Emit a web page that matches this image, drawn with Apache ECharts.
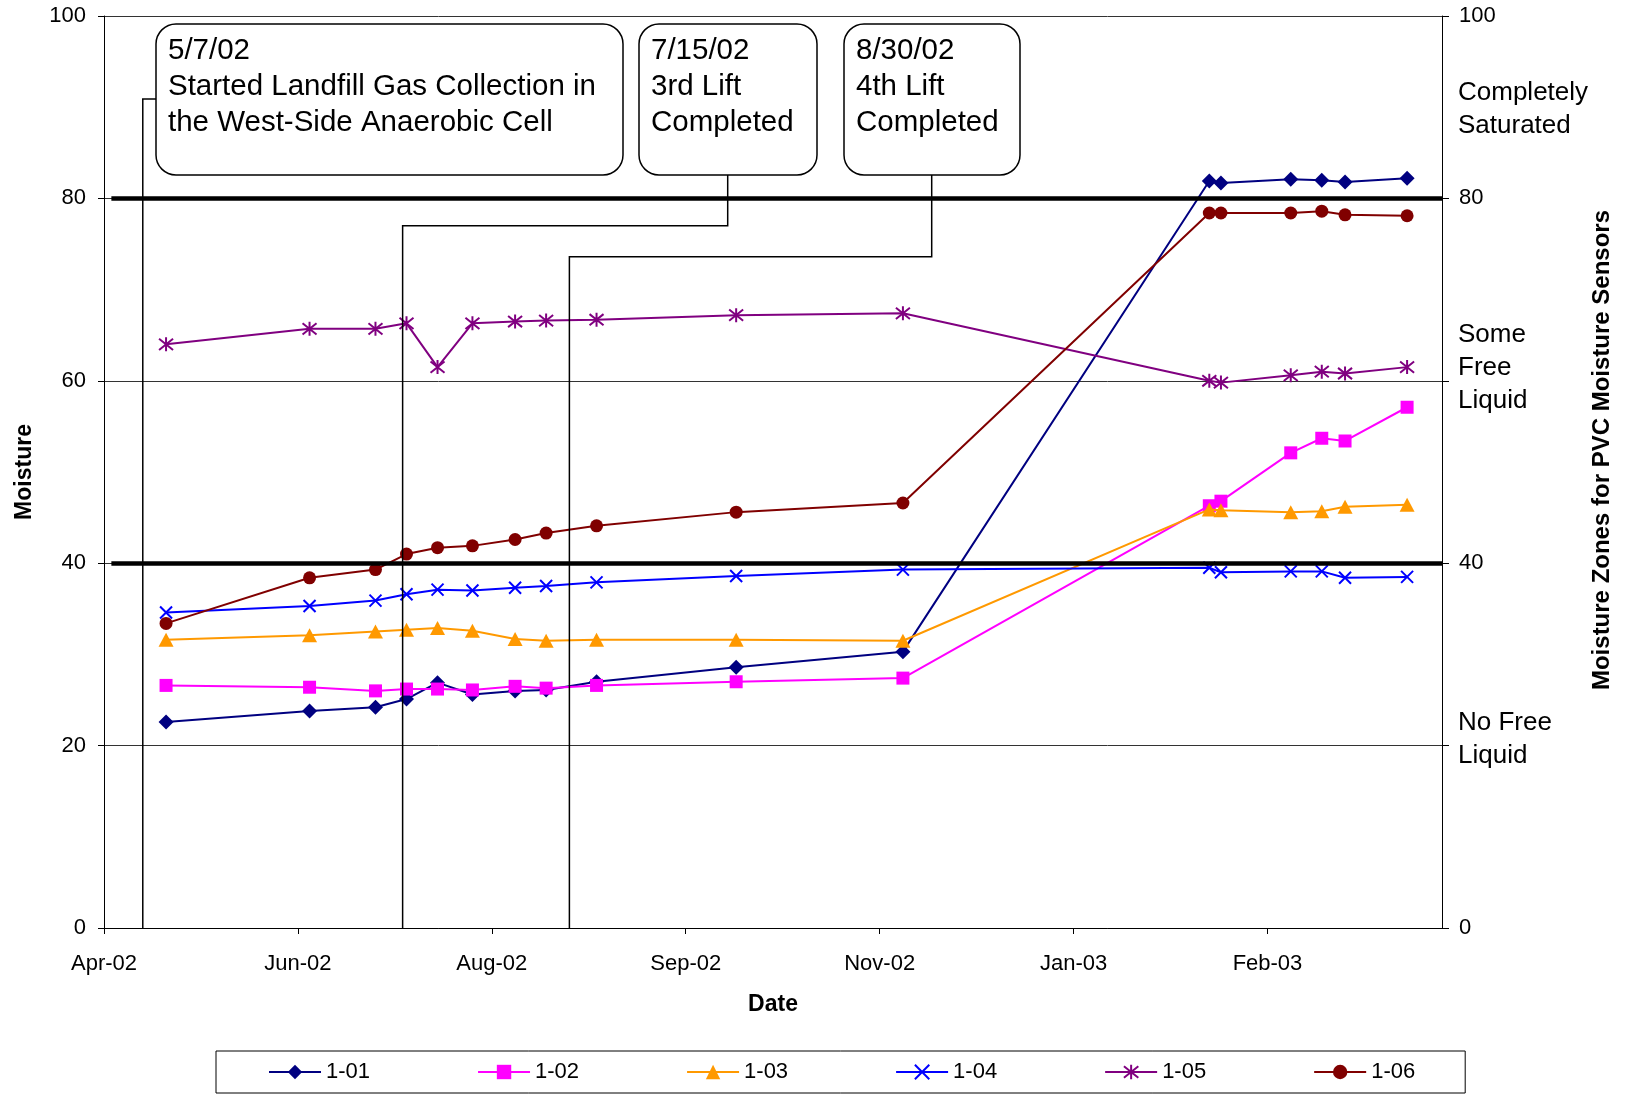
<!DOCTYPE html>
<html><head><meta charset="utf-8">
<script src="https://cdn.jsdelivr.net/npm/echarts@6/dist/echarts.min.js"></script>
<style>html,body{margin:0;padding:0;background:#fff}#c{width:1627px;height:1095px}</style>
</head><body><div id="c"></div>
<script>
// ---- data ----
const ORIGIN = '2002-04-28';           // left end of the date axis
const tickStepDays = 50;
const axisMaxDays = 345;
const tickLabels = ['Apr-02', 'Jun-02', 'Aug-02', 'Sep-02', 'Nov-02', 'Jan-03', 'Feb-03'];
const dates = ['2002-05-14', '2002-06-20', '2002-07-07', '2002-07-15', '2002-07-23', '2002-08-01',
  '2002-08-12', '2002-08-20', '2002-09-02', '2002-10-08', '2002-11-20', '2003-02-07',
  '2003-02-10', '2003-02-28', '2003-03-08', '2003-03-14', '2003-03-30'];
const seriesNames = ['1-01', '1-02', '1-03', '1-04', '1-05', '1-06'];
const s101 = [22.6, 23.8, 24.2, 25.1, 26.9, 25.6, 26.0, 26.1, 27.0, 28.6, 30.3, 81.9, 81.7, 82.1, 82.0, 81.8, 82.2];
const s102 = [26.6, 26.4, 26.0, 26.2, 26.2, 26.1, 26.5, 26.3, 26.6, 27.0, 27.4, 46.3, 46.8, 52.1, 53.7, 53.4, 57.1];
const s103 = [31.6, 32.1, 32.5, 32.7, 32.9, 32.6, 31.7, 31.5, 31.6, 31.6, 31.5, 45.9, 45.8, 45.6, 45.7, 46.2, 46.4];
const s104 = [34.6, 35.3, 35.9, 36.6, 37.1, 37.0, 37.3, 37.5, 37.9, 38.6, 39.3, 39.5, 39.0, 39.1, 39.1, 38.4, 38.5];
const s105 = [64.0, 65.7, 65.7, 66.3, 61.5, 66.3, 66.5, 66.6, 66.7, 67.2, 67.4, 60.0, 59.8, 60.6, 61.0, 60.8, 61.5];
const s106 = [33.4, 38.4, 39.3, 41.0, 41.7, 41.9, 42.6, 43.3, 44.1, 45.6, 46.6, 78.4, 78.4, 78.4, 78.6, 78.2, 78.1];
const rightTickLabels = [0, 40, 80, 100];
const thresholds = [80, 40];
const zoneLabels = ['Completely\nSaturated', 'Some\nFree\nLiquid', 'No Free\nLiquid'];
const annotationTexts = ['5/7/02\nStarted Landfill Gas Collection in\nthe West-Side Anaerobic Cell',
  '7/15/02\n3rd Lift\nCompleted', '8/30/02\n4th Lift\nCompleted'];
const annotationLineDates = ['2002-05-08', '2002-07-14', '2002-08-26']; // where the callout lines were drawn
const annotationElbows = [90.9, 77.0, 73.6];

// ---- helpers ----
function dayOf(s) {
  const a = s.split('-').map(Number), o = ORIGIN.split('-').map(Number);
  return (Date.UTC(a[0], a[1] - 1, a[2]) - Date.UTC(o[0], o[1] - 1, o[2])) / 86400000;
}
const FONT = "'Liberation Sans', Arial, sans-serif";
const colors = ['#000080', '#FF00FF', '#FF9900', '#0000FF', '#800080', '#800000'];
const values = [s101, s102, s103, s104, s105, s106];
const symbols = ['diamond', 'rect', 'triangle', 'path://M0,0L10,10M10,0L0,10', 'path://M1,1L9,9M9,1L1,9M5,0L5,10', 'circle'];
const symbolSizes = [15, 13, [15, 14], 12, 14, 13];
const tickValues = tickLabels.map((t, i) => i * tickStepDays);

const series = seriesNames.map((n, k) => {
  const stroked = k === 3 || k === 4;
  return {
    name: n, type: 'line',
    data: dates.map((d, i) => [dayOf(d), values[k][i]]),
    symbol: symbols[k], symbolSize: symbolSizes[k], showAllSymbol: true,
    lineStyle: { color: colors[k], width: 2 },
    itemStyle: stroked ? { color: colors[k], borderColor: colors[k], borderWidth: 2 } : { color: colors[k], borderWidth: 0 },
    emphasis: { disabled: true },
    z: 2 + k * 0.01
  };
});
series[series.length - 1].markLine = {
  symbol: 'none', silent: true, label: { show: false }, z: 10,
  lineStyle: { color: '#000', width: 4.5, type: 'solid' },
  emphasis: { disabled: true },
  data: thresholds.map(v => [{ coord: [1.9, v] }, { coord: [axisMaxDays, v] }])
};

const chart = echarts.init(document.getElementById('c'), null, { renderer: 'canvas' });
const option = {
  animation: false,
  backgroundColor: '#fff',
  textStyle: { fontFamily: FONT },
  grid: { left: 104, top: 16, width: 1338, height: 912, containLabel: false },
  legend: {
    data: seriesNames, left: 216, top: 1051,
    padding: [10, 50, 10, 52], itemWidth: 52, itemHeight: 18, itemGap: 107,
    borderColor: '#000', borderWidth: 1,
    textStyle: { fontSize: 22, color: '#000', fontFamily: FONT }
  },
  xAxis: {
    type: 'value', min: 0, max: axisMaxDays, interval: tickStepDays,
    name: 'Date', nameLocation: 'middle', nameGap: 65,
    nameTextStyle: { fontSize: 23, fontWeight: 'bold', color: '#000', fontFamily: FONT },
    axisLine: { show: true, onZero: false, lineStyle: { color: '#000', width: 1 } },
    axisTick: { show: true, length: 6, lineStyle: { color: '#000' }, customValues: tickValues },
    splitLine: { show: false },
    axisLabel: {
      fontSize: 22, color: '#000', margin: 25, fontFamily: FONT,
      formatter: v => (v % tickStepDays === 0 && tickLabels[v / tickStepDays] !== undefined) ? tickLabels[v / tickStepDays] : ''
    }
  },
  yAxis: [{
    type: 'value', min: 0, max: 100, interval: 20, position: 'left',
    name: 'Moisture', nameLocation: 'middle', nameGap: 68, nameRotate: 90,
    nameTextStyle: { fontSize: 23, fontWeight: 'bold', color: '#000', fontFamily: FONT },
    axisLine: { show: true, lineStyle: { color: '#000', width: 1 } },
    axisTick: { show: true, length: 6, lineStyle: { color: '#000' } },
    splitLine: { show: true, lineStyle: { color: '#333', width: 1 } },
    axisLabel: { fontSize: 22, color: '#000', margin: 18, fontFamily: FONT }
  }, {
    type: 'value', min: 0, max: 100, interval: 20, position: 'right',
    axisLine: { show: true, lineStyle: { color: '#000', width: 1 } },
    axisTick: { show: true, length: 7, lineStyle: { color: '#000' } },
    splitLine: { show: false },
    axisLabel: {
      fontSize: 22, color: '#000', margin: 17, fontFamily: FONT,
      formatter: v => rightTickLabels.indexOf(v) >= 0 ? String(v) : ''
    }
  }],
  series: series
};
chart.setOption(option);

// ---- annotations & side labels ----
const P = (x, y) => chart.convertToPixel({ xAxisIndex: 0, yAxisIndex: 0 }, [x, y]);
const boxes = [
  { x: 156, y: 24, w: 467, h: 151, attach: null },
  { x: 639, y: 24, w: 178, h: 151, attach: 727.7 },
  { x: 844, y: 24, w: 176, h: 151, attach: 931.7 }
];
const g = [];
boxes.forEach((b, i) => {
  const day = dayOf(annotationLineDates[i]);
  const base = P(day, 0);
  const elbow = P(day, annotationElbows[i]);
  const pts = b.attach === null
    ? [[base[0], base[1]], [elbow[0], elbow[1]], [b.x, elbow[1]]]
    : [[base[0], base[1]], [elbow[0], elbow[1]], [b.attach, elbow[1]], [b.attach, b.y + b.h]];
  g.push({ type: 'polyline', z: 100, shape: { points: pts }, style: { stroke: '#000', lineWidth: 1.5, fill: null } });
  g.push({ type: 'rect', z: 101, shape: { x: b.x, y: b.y, width: b.w, height: b.h, r: 20 }, style: { fill: '#fff', stroke: '#000', lineWidth: 1.5 } });
  g.push({ type: 'text', z: 102, x: b.x + 12, y: b.y + 9, style: { text: annotationTexts[i], font: '29.5px ' + FONT, fill: '#000', lineHeight: 36, verticalAlign: 'top', align: 'left' } });
});
const zoneTops = [76.5, 318, 706];
zoneLabels.forEach((t, i) => {
  g.push({ type: 'text', z: 102, x: 1458, y: zoneTops[i], style: { text: t, font: '26px ' + FONT, fill: '#000', lineHeight: 33, verticalAlign: 'top', align: 'left' } });
});
g.push({ type: 'text', z: 102, x: 1602, y: 450, rotation: Math.PI / 2,
  style: { text: 'Moisture Zones for PVC Moisture Sensors', font: 'bold 24px ' + FONT, fill: '#000', align: 'center', verticalAlign: 'middle' } });
chart.setOption({ graphic: g });
</script></body></html>
